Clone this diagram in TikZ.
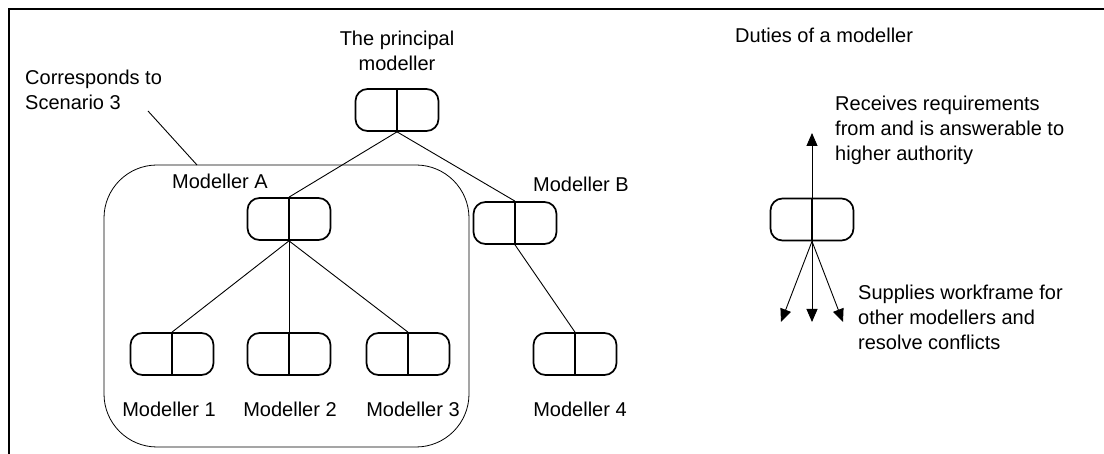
\documentclass[tikz,border=0pt]{standalone}
\usepackage{fontspec}
\setmainfont{Liberation Sans}
\usetikzlibrary{arrows.meta}
\begin{document}
\begin{tikzpicture}[x=1pt,y=-1pt,
  mbox/.style={draw, line width=1.7pt, rounded corners=12pt, minimum width=83pt, minimum height=42pt, inner sep=0pt},
  divider/.style={line width=1.3pt},
  txt/.style={font=\fontsize{20}{25}\selectfont, inner sep=0pt},
  link/.style={line width=0.9pt},
  arr/.style={line width=0.9pt, -{Triangle[length=13pt,width=11pt]}}]
\useasboundingbox (0,0) rectangle (1104,454);
\draw[line width=2.2pt] (9,454) -- (9,9) -- (1104,9);

% region of scenario 3
\node[draw, line width=0.8pt, rounded corners=53pt, minimum width=365pt, minimum height=282pt, inner sep=0pt] (S3) at (286.5,306) {};

% modeller boxes
\node[mbox] (P) at (397,110) {};
\node[mbox] (A) at (289,219) {};
\node[mbox] (B) at (515,223) {};
\node[mbox] (M1) at (172,354) {};
\node[mbox] (M2) at (289,354) {};
\node[mbox] (M3) at (408,354) {};
\node[mbox] (M4) at (575,354) {};
\node[mbox] (R) at (812,219.5) {};
\foreach \n in {P,A,B,M1,M2,M3,M4,R} \draw[divider] (\n.north) -- (\n.south);

% hierarchy
\draw[link] (P.south) -- (A.north);
\draw[link] (P.south) -- (B.north);
\draw[link] (A.south) -- (M1.north);
\draw[link] (A.south) -- (M2.north);
\draw[link] (A.south) -- (M3.north);
\draw[link] (B.south) -- (M4.north);

% note pointer
\coordinate (noteTail) at (148,111);
\coordinate (noteHead) at (197,165);
\draw[link] (noteTail) -- (noteHead);

% duties arrows
\coordinate (up) at (812,133);
\coordinate (d1) at (781,322);
\coordinate (d2) at (812,322);
\coordinate (d3) at (843,322);
\draw[arr] (R.south) -- (up);
\draw[arr] (R.south) -- (d1);
\draw[arr] (R.south) -- (d2);
\draw[arr] (R.south) -- (d3);

% texts (base anchor = baseline of the last line)
\node[txt, anchor=base west, align=left] (note) at (25,110) {Corresponds to\\Scenario 3};
\node[txt, anchor=base, align=center] (Pl) at (397,71) {The principal\\modeller};
\node[txt, anchor=base west] (duties) at (735,43) {Duties of a modeller};
\node[txt, anchor=base west, align=left] (recv) at (835,161) {Receives requirements\\from and is answerable to\\higher authority};
\node[txt, anchor=base west, align=left] (supp) at (858,350) {Supplies workframe for\\other modellers and\\resolve conflicts};
\node[txt, anchor=base west] (Al) at (172,189) {Modeller A};
\node[txt, anchor=base west] (Bl) at (533,192) {Modeller B};
\node[txt, anchor=base] (M1l) at (169,417) {Modeller 1};
\node[txt, anchor=base] (M2l) at (290,417) {Modeller 2};
\node[txt, anchor=base] (M3l) at (413,417) {Modeller 3};
\node[txt, anchor=base] (M4l) at (580,417) {Modeller 4};
\end{tikzpicture}
\end{document}
